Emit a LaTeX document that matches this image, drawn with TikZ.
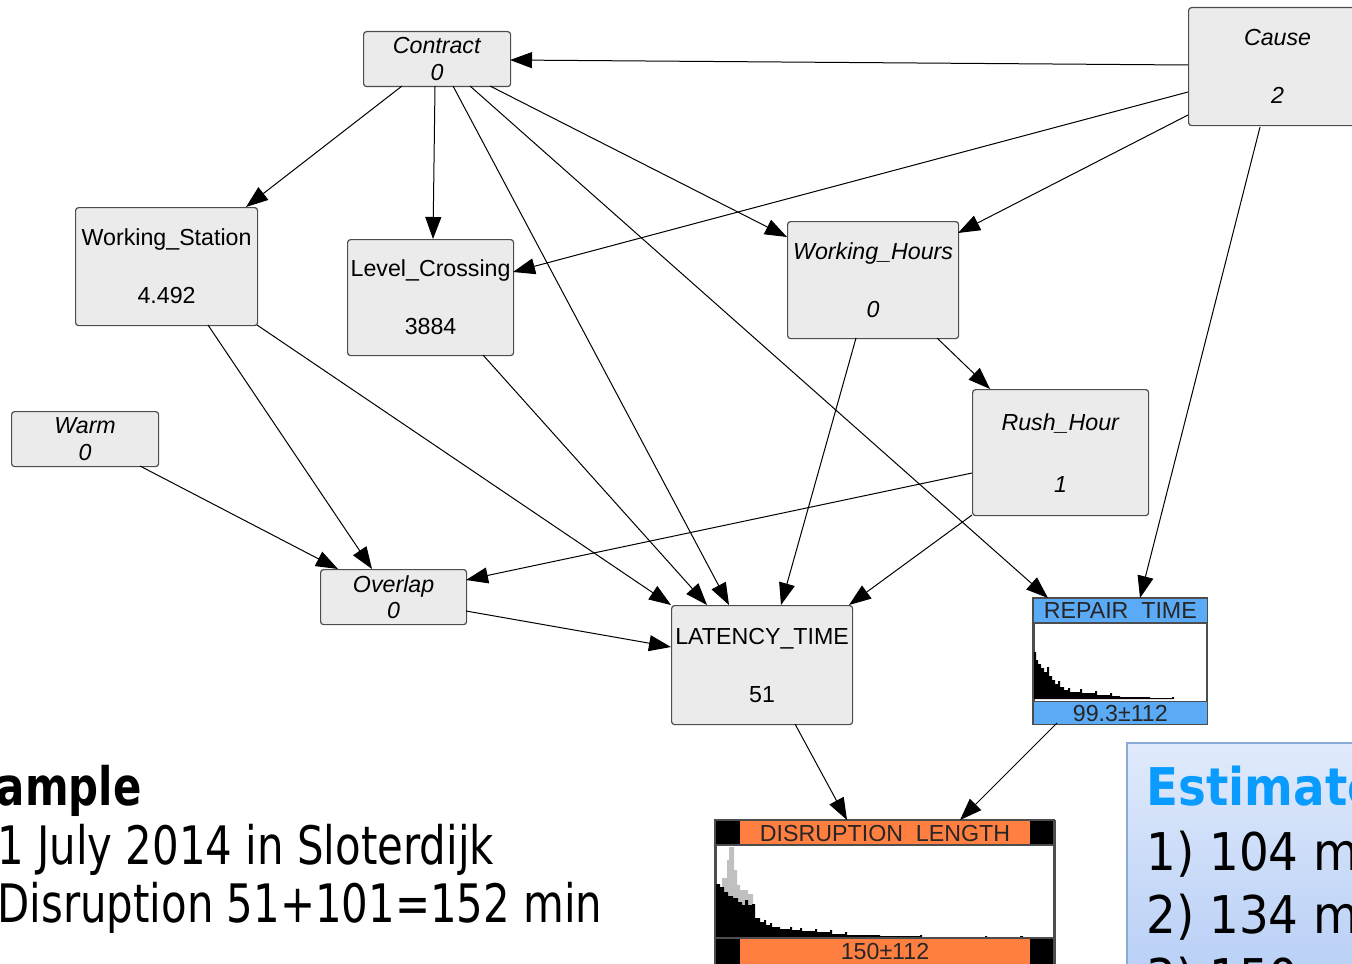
\documentclass[tikz,border=0pt]{standalone}
\usepackage{fontspec}
\setmainfont{Liberation Sans}
\newfontfamily\tahleft[FakeStretch=0.79]{DejaVu Sans}
\newfontfamily\tahest[FakeStretch=0.9]{DejaVu Sans}
\usetikzlibrary{arrows.meta,calc}
\definecolor{boxfill}{HTML}{EBEBEB}
\definecolor{boxline}{HTML}{4D4D4D}
\definecolor{hblue}{HTML}{5AAAF5}
\definecolor{horange}{HTML}{FF7F40}
\definecolor{histgray}{HTML}{C0C0C0}
\definecolor{estblue}{HTML}{0A9BFF}
\definecolor{esttop}{HTML}{E0EAFB}
\definecolor{estbot}{HTML}{B2CBF5}
\definecolor{estline}{HTML}{8AAAD8}
\begin{document}
\begin{tikzpicture}[x=0.5pt,y=-0.5pt,
 bnbox/.style={draw=boxline, fill=boxfill, rounded corners=1.5pt, line width=0.6pt, inner sep=0pt, anchor=north west, align=center, text=black},
 tallbox/.style={bnbox, font=\fontsize{11.6}{29}\selectfont},
 rushbox/.style={bnbox, font=\fontsize{11.6}{31}\selectfont},
 shortbox/.style={bnbox, font=\fontsize{11.6}{13.2}\selectfont},
 edge/.style={line width=0.5pt, -{Triangle[length=11pt,width=8pt]}},
 histlbl/.style={inner sep=0pt, font=\fontsize{11.6}{12}\selectfont, text=black!85},
 lefttxt/.style={inner sep=0pt, anchor=base west, font=\tahleft\fontsize{26.5}{30}\selectfont},
 esttxt/.style={inner sep=0pt, anchor=base west, font=\tahest\fontsize{26}{30}\selectfont},
]
\useasboundingbox (0,0) rectangle (1352,963);
\clip (0,0) rectangle (1352,963);

% ---------- nodes ----------
\node[shortbox, minimum width=73.5pt, minimum height=27.5pt] (contract) at (363,31) {\textit{Contract}\\\textit{0}};
\node[tallbox, minimum width=89pt, minimum height=59pt] (cause) at (1188,7) {\textit{Cause}\\\textit{2}};
\node[tallbox, minimum width=91pt, minimum height=59pt] (ws) at (75,207) {Working\_Station\\4.492};
\node[tallbox, minimum width=83pt, minimum height=58pt] (lc) at (347,239) {Level\_Crossing\\3884};
\node[tallbox, minimum width=85.5pt, minimum height=58.5pt] (wh) at (787,221) {\textit{Working\_Hours}\\\textit{0}};
\node[rushbox, minimum width=88pt, minimum height=63pt] (rh) at (972,389) {\textit{Rush\_Hour}\\\textit{1}};
\node[shortbox, minimum width=73.5pt, minimum height=27.5pt] (warm) at (11,411) {\textit{Warm}\\\textit{0}};
\node[shortbox, minimum width=73pt, minimum height=27.5pt] (overlap) at (320,569) {\textit{Overlap}\\\textit{0}};
\node[tallbox, minimum width=90.5pt, minimum height=59.5pt] (lat) at (671,605) {LATENCY\_TIME\\51};

% REPAIR TIME
\node[draw=boxline, line width=0.8pt, fill=white, minimum width=86.5pt, minimum height=62.5pt, inner sep=0pt, anchor=north west] (repair) at (1033,598) {};
\fill[hblue] (repair.north west) rectangle ($(repair.north east)+(0,25)$);
\fill[hblue] ($(repair.south west)+(0,-23)$) rectangle (repair.south east);
\fill[black] (1034,699) -- (1034,652) -- (1036,652) -- (1036,660) -- (1038,660) -- (1038,664) -- (1041,664) -- (1041,668) -- (1044,668) -- (1044,672) -- (1047,672) -- (1047,667) -- (1049,667) -- (1049,676) -- (1052,676) -- (1052,680) -- (1055,680) -- (1055,684) -- (1058,684) -- (1058,681) -- (1060,681) -- (1060,687) -- (1064,687) -- (1064,690) -- (1068,690) -- (1068,688) -- (1070,688) -- (1070,692) -- (1080,692) -- (1080,689) -- (1082,689) -- (1082,693) -- (1095,693) -- (1095,691) -- (1097,691) -- (1097,695) -- (1110,695) -- (1110,693) -- (1112,693) -- (1112,696) -- (1120,696) -- (1120,697) -- (1150,697) -- (1150,698) -- (1172,698) -- (1172,697) -- (1174,697) -- (1174,699) -- cycle;
\draw[boxline, line width=0.8pt] ($(repair.north west)+(0,25)$) -- ($(repair.north east)+(0,25)$);
\draw[boxline, line width=0.8pt] ($(repair.south west)+(0,-23)$) -- ($(repair.south east)+(0,-23)$);
\draw[boxline, line width=0.8pt] (repair.north west) rectangle (repair.south east);
\node[histlbl] (repairlbl) at ($(repair.north)+(0,13)$) {REPAIR\ \ TIME};
\node[histlbl] (repairval) at ($(repair.south)+(0,-11)$) {99.3±112};

% DISRUPTION LENGTH
\node[draw=boxline, line width=0.8pt, fill=white, minimum width=169.5pt, minimum height=74pt, inner sep=0pt, anchor=north west] (disr) at (715,820) {};
\fill[black] (715,820) rectangle (1054,845);
\fill[horange] (740,821) rectangle (1030,844);
\fill[black] (715,938) rectangle (1054,970);
\fill[horange] (740,939) rectangle (1030,970);
\fill[histgray] (722,938) -- (722,878) -- (727,878) -- (727,860) -- (729,860) -- (729,847) -- (734,847) -- (734,870) -- (737,870) -- (737,885) -- (740,885) -- (740,890) -- (748,890) -- (748,894) -- (753,894) -- (753,938) -- cycle;
\fill[black] (716,938) -- (716,884) -- (720,884) -- (720,887) -- (724,887) -- (724,892) -- (728,892) -- (728,896) -- (733,896) -- (733,898) -- (738,898) -- (738,902) -- (742,902) -- (742,905) -- (745,905) -- (745,900) -- (748,900) -- (748,905) -- (752,905) -- (752,904) -- (755,904) -- (755,918) -- (760,918) -- (760,922) -- (764,922) -- (764,920) -- (766,920) -- (766,925) -- (770,925) -- (770,923) -- (772,923) -- (772,927) -- (780,927) -- (780,929) -- (790,929) -- (790,927) -- (792,927) -- (792,930) -- (800,930) -- (800,928) -- (802,928) -- (802,931) -- (815,931) -- (815,929) -- (817,929) -- (817,932) -- (830,932) -- (830,930) -- (832,930) -- (832,934) -- (845,934) -- (845,932) -- (847,932) -- (847,935) -- (880,935) -- (880,936) -- (920,936) -- (920,935) -- (922,935) -- (922,937) -- (985,937) -- (985,936) -- (987,936) -- (987,937) -- (1020,937) -- (1020,936) -- (1023,936) -- (1023,937) -- (1053,937) -- (1053,938) -- cycle;
\draw[boxline, line width=0.8pt] (715,845) -- (1054,845);
\draw[boxline, line width=0.8pt] (715,938) -- (1054,938);
\draw[boxline, line width=0.8pt] (715,970) -- (715,820) -- (1054,820) -- (1054,970);
\node[histlbl] (disrlbl) at (885,833) {DISRUPTION\ \ LENGTH};
\node[histlbl] (disrval) at (885,951) {150±112};

% ---------- connectors ----------
\draw[edge] ($(cause.north west)+(0,58)$) -- ($(contract.north west)+(147,29)$);
\draw[edge] ($(cause.north west)+(0,85)$) -- ($(lc.north west)+(166,33)$);
\draw[edge] ($(cause.north west)+(0,108)$) -- ($(wh.north west)+(171,12)$);
\draw[edge] ($(cause.north west)+(72,120)$) -- ($(repair.north west)+(107,0)$);
\draw[edge] ($(contract.north west)+(39,55)$) -- ($(ws.north west)+(171,0)$);
\draw[edge] ($(contract.north west)+(72,55)$) -- ($(lc.north west)+(86,0)$);
\draw[edge] ($(contract.north west)+(90,55)$) -- ($(lat.north west)+(58,0)$);
\draw[edge] ($(contract.north west)+(127,55)$) -- ($(wh.north west)+(0,16)$);
\draw[edge] ($(contract.north west)+(107,55)$) -- ($(repair.north west)+(15,0)$);
\draw[edge] ($(ws.north west)+(133,118)$) -- ($(overlap.north west)+(52,0)$);
\draw[edge] ($(ws.north west)+(182,118)$) -- (lat.north west);
\draw[edge] ($(lc.north west)+(136,116)$) -- ($(lat.north west)+(36,0)$);
\draw[edge] ($(wh.north west)+(69,117)$) -- ($(lat.north west)+(110,0)$);
\draw[edge] ($(wh.north west)+(150,117)$) -- ($(rh.north west)+(18,0)$);
\draw[edge] ($(rh.north west)+(0,84)$) -- ($(overlap.north west)+(146,11)$);
\draw[edge] ($(rh.north west)+(0,126)$) -- ($(lat.north west)+(178,0)$);
\draw[edge] ($(warm.north west)+(129,55)$) -- ($(overlap.north west)+(18,0)$);
\draw[edge] ($(overlap.north west)+(146,42)$) -- ($(lat.north west)+(0,42)$);
\draw[edge] ($(lat.north west)+(124,119)$) -- ($(disr.north west)+(132,0)$);
\draw[edge] ($(repair.north west)+(24,125)$) -- ($(disr.north west)+(245,0)$);

% ---------- estimate box ----------
\node[draw=estline, line width=1pt, top color=esttop, bottom color=estbot, minimum width=140pt, minimum height=135pt, inner sep=0pt, anchor=north west] (est) at (1126,742) {};
\node[esttxt, text=estblue, font=\tahest\bfseries\fontsize{26}{30}\selectfont] (esthead) at (1146,805) {Estimate};
\node[esttxt] (est1) at (1146,870) {1)\ 104 min};
\node[esttxt] (est2) at (1146,933) {2)\ 134 min};
\node[esttxt] (est3) at (1146,996) {3)\ 150 min};

% ---------- example text ----------
\node[lefttxt, anchor=base east, font=\tahleft\bfseries\fontsize{26.5}{30}\selectfont] (exhead) at (142,805) {Example};
\node[lefttxt] (ex1) at (-3,864) {1 July 2014 in Sloterdijk};
\node[lefttxt] (ex2) at (-3,922) {Disruption 51+101=152 min};
\end{tikzpicture}
\end{document}
